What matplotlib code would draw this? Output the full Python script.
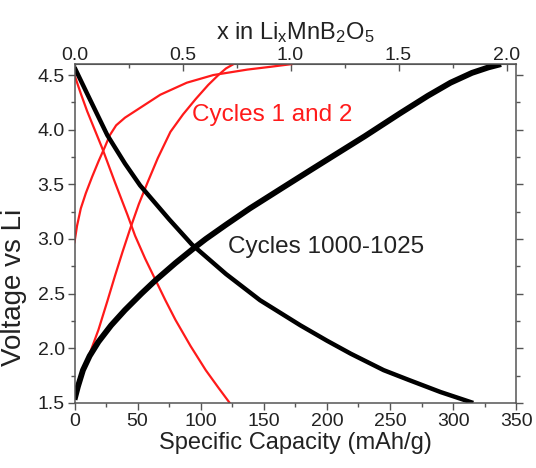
import numpy as np
import matplotlib
matplotlib.use("Agg")
import matplotlib.pyplot as plt

plt.rcParams['font.family'] = ['Liberation Sans', 'DejaVu Sans']
plt.rcParams['mathtext.default'] = 'regular'

# --- data (capacity in mAh/g, voltage in V) ---
# cycles 1000-1025, charge
blk_chg_cap = [0, 2.7, 6.7, 12, 19, 29, 40, 53, 64, 80, 95, 104, 120, 139, 165, 187, 205, 230, 258, 280, 298, 315, 328, 338]
blk_chg_v = [1.53, 1.65, 1.80, 1.93, 2.06, 2.21, 2.35, 2.50, 2.62, 2.78, 2.92, 3.00, 3.13, 3.28, 3.47, 3.63, 3.76, 3.94, 4.15, 4.31, 4.43, 4.52, 4.57, 4.60]
# cycles 1000-1025, discharge
blk_dis_cap = [0, 10, 26, 40, 52, 75, 93, 120, 147, 179, 200, 219, 245, 265, 290, 316]
blk_dis_v = [4.57, 4.33, 3.95, 3.69, 3.49, 3.18, 2.95, 2.68, 2.44, 2.21, 2.07, 1.95, 1.80, 1.71, 1.60, 1.50]
# cycle 1 charge (from OCV)
red_chg1_cap = [0, 2, 5, 9, 14, 19, 24, 28, 33, 40, 52, 68, 89, 110, 137, 155, 172]
red_chg1_v = [2.97, 3.12, 3.28, 3.42, 3.57, 3.71, 3.84, 3.95, 4.04, 4.11, 4.20, 4.32, 4.43, 4.50, 4.55, 4.575, 4.60]
# cycle 1 discharge
red_dis_cap = [0, 5, 10, 16, 22, 32, 42, 48, 56, 64, 72, 80, 92, 104, 114, 123]
red_dis_v = [4.50, 4.33, 4.17, 4.00, 3.83, 3.52, 3.22, 3.03, 2.82, 2.63, 2.44, 2.26, 2.02, 1.80, 1.64, 1.50]
# cycle 2 charge
red_chg2_cap = [0, 5, 12, 19, 26, 32, 38, 44, 51, 58, 66, 76, 86, 96, 106, 114, 120, 126]
red_chg2_v = [1.58, 1.74, 1.95, 2.17, 2.43, 2.66, 2.88, 3.09, 3.32, 3.52, 3.74, 3.98, 4.14, 4.28, 4.41, 4.50, 4.56, 4.60]

MAH_PER_LI = 171.2  # mAh/g per Li in MnB2O5

fig = plt.figure(figsize=(5.36, 4.68), dpi=100)
ax = fig.add_axes([0.139, 0.139, 0.824, 0.724])

ax.plot(red_chg1_cap, red_chg1_v, color='#ff1a1a', lw=1.6)
ax.plot(red_dis_cap, red_dis_v, color='#ff1a1a', lw=1.6)
ax.plot(red_chg2_cap, red_chg2_v, color='#ff1a1a', lw=1.6)
ax.plot(blk_dis_cap, blk_dis_v, color='black', lw=3.2, solid_capstyle='butt')
ax.plot(blk_chg_cap, blk_chg_v, color='black', lw=4.2, solid_capstyle='butt')

ax.text(93, 4.13, 'Cycles 1 and 2', color='#ff1a1a', fontsize=17.5, va='center')
ax.text(122, 2.93, 'Cycles 1000-1025', color='#222222', fontsize=17.5, va='center')

ax.set_xlim(0, 350)
ax.set_ylim(1.5, 4.6)
ax.set_xticks(np.arange(0, 351, 50))
ax.set_xticks(np.arange(0, 351, 25), minor=True)
ax.set_yticks(np.arange(1.5, 4.51, 0.5))
ax.set_yticks(np.arange(1.5, 4.6, 0.25), minor=True)
ax.yaxis.set_major_formatter(plt.FormatStrFormatter('%.1f'))

ax.tick_params(axis='x', which='both', direction='out', top=False, colors='#555555',
               labelcolor='#222222', labelsize=14, pad=2)
ax.tick_params(axis='y', which='both', direction='out', right=True, colors='#555555',
               labelcolor='#222222', labelsize=14, pad=2)
ax.tick_params(which='major', length=5, width=1)
ax.tick_params(which='minor', length=3, width=1)
for s in ax.spines.values():
    s.set_color('#555555')
    s.set_linewidth(1.1)

ax.set_xlabel('Specific Capacity (mAh/g)', fontsize=17, color='#222222', labelpad=2)
ax.set_ylabel('Voltage vs Li', fontsize=20, color='#222222')
ax.yaxis.set_label_coords(-0.108, 0.342)

sec = ax.secondary_xaxis('top', functions=(lambda c: c / MAH_PER_LI, lambda x: x * MAH_PER_LI))
sec.set_xticks(np.arange(0, 2.01, 0.5))
sec.set_xticks(np.arange(0, 2.01, 0.25), minor=True)
sec.xaxis.set_major_formatter(plt.FormatStrFormatter('%.1f'))
sec.tick_params(which='both', direction='in', colors='#555555', labelcolor='#222222',
                labelsize=14, pad=0)
sec.tick_params(which='major', length=5, width=1)
sec.tick_params(which='minor', length=3, width=1)
sec.spines['top'].set_color('#555555')
sec.set_xlabel(r'x in Li$_{x}$MnB$_{2}$O$_{5}$', fontsize=17, color='#222222', labelpad=6)

fig.savefig('out.png', dpi=100)
